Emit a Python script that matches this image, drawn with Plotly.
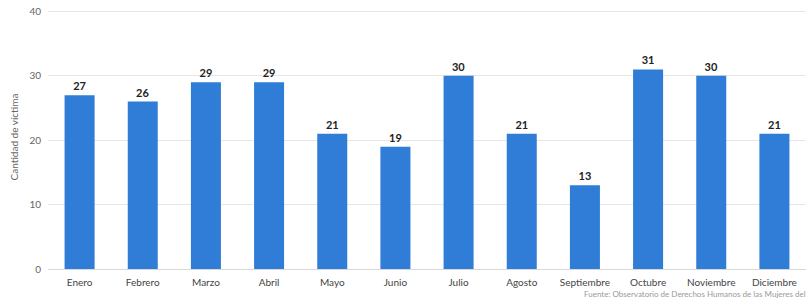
import plotly.graph_objects as go

meses = ["Enero", "Febrero", "Marzo", "Abril", "Mayo", "Junio", "Julio",
         "Agosto", "Septiembre", "Octubre", "Noviembre", "Diciembre"]
victimas = [27, 26, 29, 29, 21, 19, 30, 21, 13, 31, 30, 21]
y_ticks = [0, 10, 20, 30, 40]

font_family = "Lato, Noto Sans, sans-serif"

fig = go.Figure(go.Bar(
    x=meses, y=victimas,
    marker=dict(color="#2F7DD6", line=dict(width=0)),
    text=victimas, textposition="outside", cliponaxis=False,
    textfont=dict(size=11, color="#222222", family=font_family, weight="bold"),
))

fig.update_layout(
    width=806, height=304,
    margin=dict(l=48, r=0, t=5, b=35, autoexpand=False),
    paper_bgcolor="white", plot_bgcolor="white",
    bargap=0.525,
    showlegend=False,
    font=dict(family=font_family, size=10, color="#666666"),
    xaxis=dict(showgrid=False, showline=True, linecolor="#d8d8d8", linewidth=1,
               ticks="", automargin=False, ticklabelstandoff=4,
               tickfont=dict(size=10, color="#444444")),
    yaxis=dict(range=[0, 41], tickvals=y_ticks, ticktext=[str(v) for v in y_ticks],
               showgrid=True, gridcolor="#e6e6e6", gridwidth=1,
               zeroline=False, ticks="", automargin=False, ticklabelstandoff=6,
               tickfont=dict(size=10, color="#666666"),
               title=dict(text="Cantidad de víctima", font=dict(size=10, color="#666666"),
                          standoff=8)),
    annotations=[dict(
        text="Fuente: Observatorio de Derechos Humanos de las Mujeres del CDI",
        xref="paper", yref="paper", x=0.705, y=-0.094, xanchor="left", yanchor="middle",
        showarrow=False, font=dict(size=8, color="#999999", family=font_family),
    )],
)

fig.write_html("out.html", config={"displayModeBar": False},
               post_script="document.body.style.margin='0';document.body.style.overflow='hidden';")
